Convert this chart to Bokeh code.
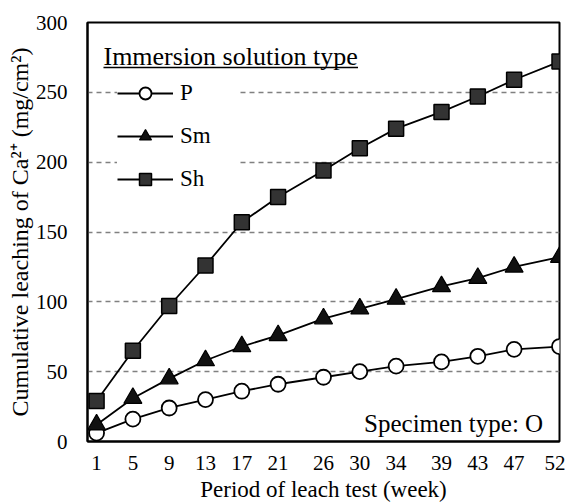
from bokeh.plotting import figure
from bokeh.models import (Legend, LegendItem, Label, BoxAnnotation, FixedTicker,
                          Range1d, Title)
from bokeh.embed import file_html
from bokeh.resources import INLINE

# ---- data ----
weeks = [1, 5, 9, 13, 17, 21, 26, 30, 34, 39, 43, 47, 52]
p_vals = [6, 16, 24, 30, 36, 41, 46, 50, 54, 57, 61, 66, 68]
sm_vals = [12, 31, 45, 58, 68, 76, 88, 95, 102, 111, 117, 125, 132]
sh_vals = [29, 65, 97, 126, 157, 175, 194, 210, 224, 236, 247, 259, 272]
y_ticks = [0, 50, 100, 150, 200, 250, 300]
series_names = ["P", "Sm", "Sh"]

FONT = "'Liberation Serif'"

p = figure(width=565, height=504, output_backend="svg", toolbar_location=None,
           x_range=Range1d(0, 52), y_range=Range1d(0, 300),
           min_border_left=87, min_border_right=6, min_border_top=22,
           min_border_bottom=61)
p.background_fill_color = "white"
p.border_fill_color = "white"
p.outline_line_color = "black"
p.outline_line_width = 2

# axes
p.xaxis.ticker = FixedTicker(ticks=weeks)
p.yaxis.ticker = FixedTicker(ticks=y_ticks)
for ax in (p.xaxis[0], p.yaxis[0]):
    ax.axis_line_width = 2
    ax.axis_line_color = "black"
    ax.major_tick_line_color = None
    ax.minor_tick_line_color = None
    ax.major_label_text_font = FONT
    ax.major_label_text_font_size = "21px"
    ax.major_label_text_color = "black"
    ax.axis_label_text_font = FONT
    ax.axis_label_text_font_size = "23px"
    ax.axis_label_text_font_style = "normal"
    ax.axis_label_text_color = "black"
p.xaxis.major_label_standoff = 8
p.yaxis.major_label_standoff = 14
p.xaxis.axis_label = "Period of leach test (week)"
p.xaxis.axis_label_standoff = 4

# y-axis title as a side-panel title (lets it sit a little below centre)
ytitle = Title(text="Cumulative leaching of Ca²⁺ (mg/cm²)", align="center",
               offset=-14, text_font=FONT, text_font_size="24px",
               text_font_style="normal", text_color="black", standoff=0,
               vertical_align="bottom")
p.add_layout(ytitle, "left")

# grid
p.xgrid.visible = False
p.ygrid.grid_line_color = "#808080"
p.ygrid.grid_line_dash = "5 4"
p.ygrid.grid_line_width = 1.3

# series
lp = p.line(weeks, p_vals, line_color="black", line_width=1.8)
mp = p.scatter(weeks, p_vals, marker="circle", size=15, fill_color="white",
               line_color="black", line_width=1.8)
ls = p.line(weeks, sm_vals, line_color="black", line_width=1.8)
ms = p.scatter(weeks, sm_vals, marker="triangle", size=18, fill_color="#111111",
               line_color="black", line_width=1.2)
lh = p.line(weeks, sh_vals, line_color="black", line_width=1.8)
mh = p.scatter(weeks, sh_vals, marker="square", size=15, fill_color="#333333",
               line_color="black", line_width=1.5)

legend = Legend(items=[
    LegendItem(label=series_names[0], renderers=[lp, mp]),
    LegendItem(label=series_names[1], renderers=[ls, ms]),
    LegendItem(label=series_names[2], renderers=[lh, mh]),
], location=(30, 247), glyph_width=56, glyph_height=30, spacing=13,
    padding=10, label_standoff=7, label_width=60, label_text_font=FONT,
    label_text_font_size="23px", label_text_color="black",
    background_fill_color="white", background_fill_alpha=1.0,
    border_line_color=None, margin=0)
p.add_layout(legend)

title = Label(x=1.76, y=275.8, text="Immersion solution type",
              text_font=FONT, text_font_size="26px", text_color="black",
              text_baseline="alphabetic", text_align="left")
p.add_layout(title)
underline = BoxAnnotation(left=1.76, right=29.8, bottom=267.3, top=268.3,
                          fill_color="black", fill_alpha=1.0, line_color=None)
p.add_layout(underline)

spec = Label(x=50.2, y=12.8, text="Specimen type: O", text_font=FONT,
             text_font_size="25px", text_color="black",
             text_baseline="alphabetic", text_align="right")
p.add_layout(spec)

open("out.html", "w").write(file_html(p, INLINE))
